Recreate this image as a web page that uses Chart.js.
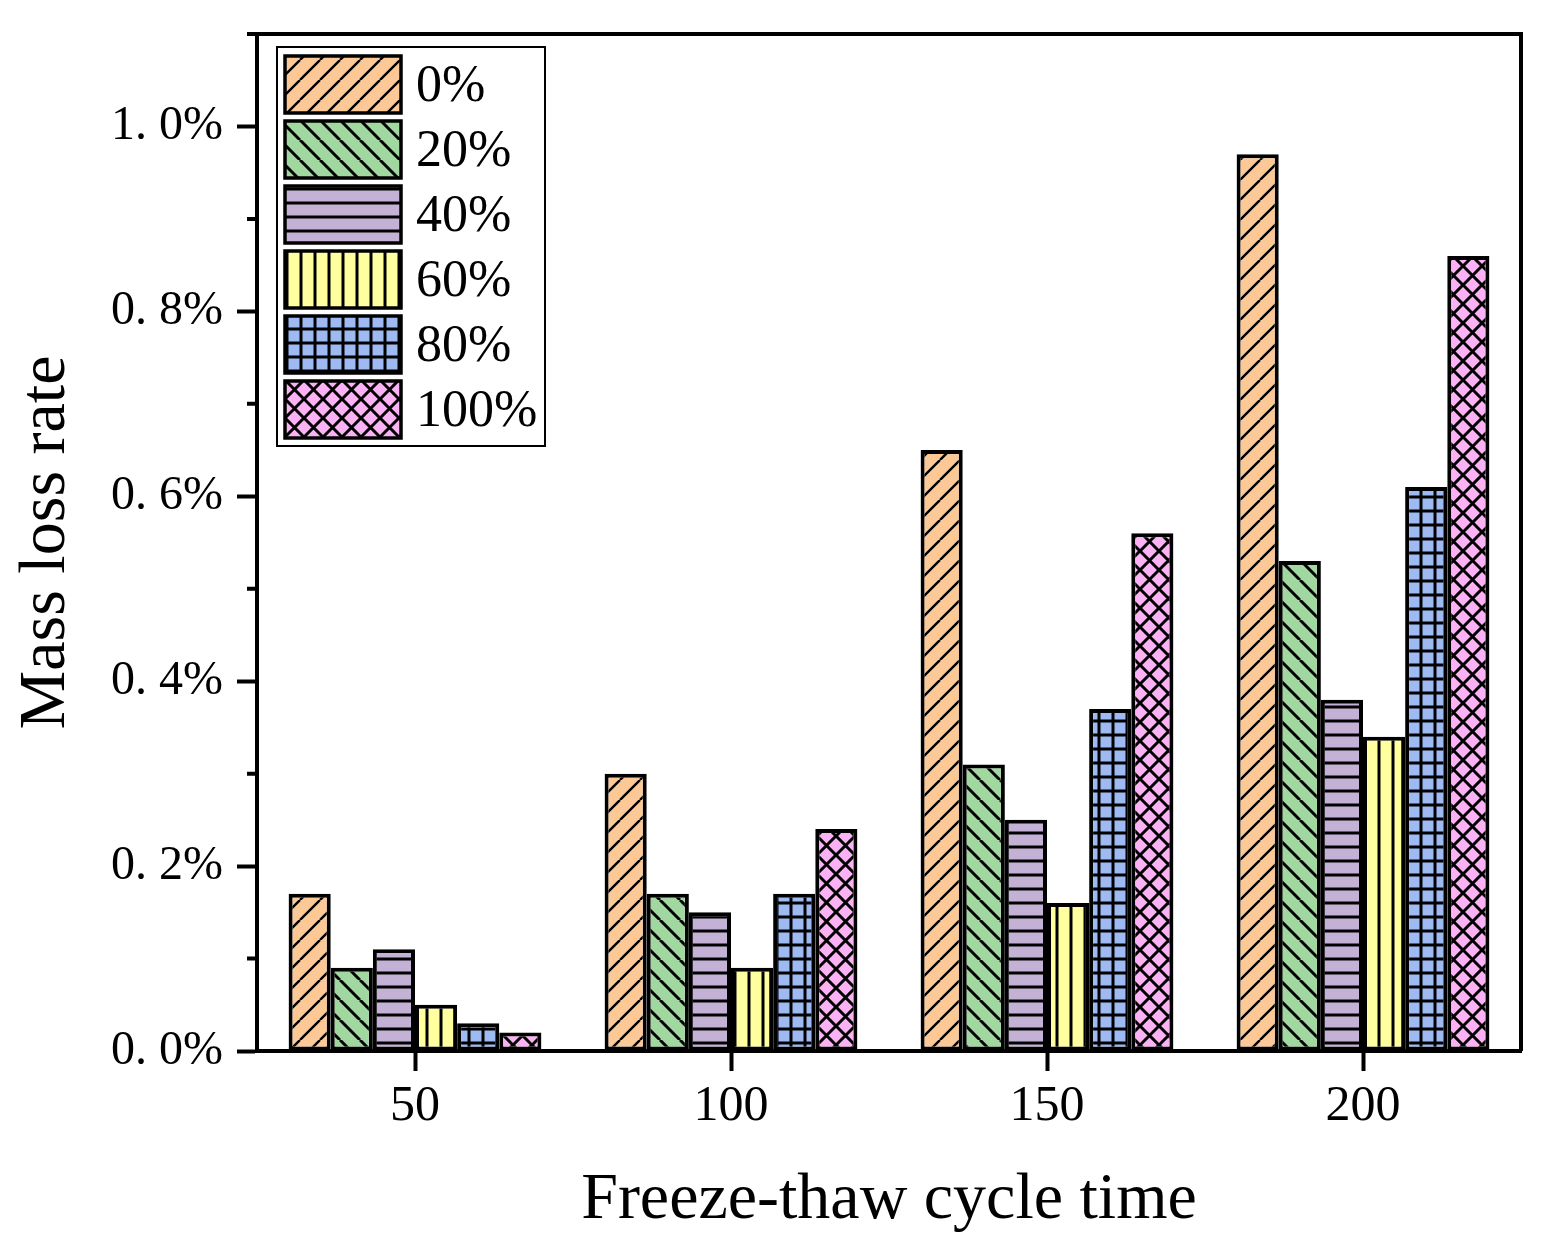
<!DOCTYPE html>
<html>
<head>
<meta charset="utf-8">
<script src="https://cdn.jsdelivr.net/npm/chart.js@4.4.1/dist/chart.umd.min.js"></script>
<style>
  html, body { margin: 0; padding: 0; background: #fff; }
  #wrap { width: 1546px; height: 1255px; }
</style>
</head>
<body>
<div id="wrap"><canvas id="chart" width="1546" height="1255"></canvas></div>
<script>
// Mass loss rate vs freeze-thaw cycles, grouped hatched bars.
const cycles = ['50', '100', '150', '200'];
const seriesNames = ['0%', '20%', '40%', '60%', '80%', '100%'];
const loss0 = [0.17, 0.30, 0.65, 0.97];
const loss20 = [0.09, 0.17, 0.31, 0.53];
const loss40 = [0.11, 0.15, 0.25, 0.38];
const loss60 = [0.05, 0.09, 0.16, 0.34];
const loss80 = [0.03, 0.17, 0.37, 0.61];
const loss100 = [0.02, 0.24, 0.56, 0.86];
const yMajorTicks = [0, 0.2, 0.4, 0.6, 0.8, 1.0];
const yMinorTicks = [0.1, 0.3, 0.5, 0.7, 0.9];

const FONT = "'Liberation Serif', 'Times New Roman', serif";
const canvas = document.getElementById('chart');
const ctx = canvas.getContext('2d');

// hatch fills
function pattern(bg, size, lw, draw) {
  const c = document.createElement('canvas');
  c.width = c.height = size;
  const x = c.getContext('2d');
  x.fillStyle = bg; x.fillRect(0, 0, size, size);
  x.strokeStyle = '#000'; x.lineWidth = lw;
  x.beginPath(); draw(x, size); x.stroke();
  return ctx.createPattern(c, 'repeat');
}
const fwd = (x, s) => { for (const k of [-1, 0, 1]) { x.moveTo(k * s, s); x.lineTo(k * s + s, 0); } };
const back = (x, s) => { for (const k of [-1, 0, 1]) { x.moveTo(k * s, 0); x.lineTo(k * s + s, s); } };
const horiz = (x, s) => { x.moveTo(0, s / 2); x.lineTo(s, s / 2); };
const vert = (x, s) => { x.moveTo(s / 2, 0); x.lineTo(s / 2, s); };

const fills = [
  pattern('#FCC896', 20, 2.4, fwd),
  pattern('#A0D8A0', 20, 3, back),
  pattern('#C3B2D6', 14, 3, horiz),
  pattern('#FFFFA0', 14, 3, vert),
  pattern('#9DBBF2', 14, 3, (x, s) => { horiz(x, s); vert(x, s); }),
  pattern('#FAB2F5', 19, 3, (x, s) => { fwd(x, s); back(x, s); }),
];
const values = [loss0, loss20, loss40, loss60, loss80, loss100];

const frame = {
  id: 'frame',
  afterDraw(chart) {
    const { ctx, chartArea: a, scales } = chart;
    ctx.save();
    ctx.strokeStyle = '#000';
    ctx.lineWidth = 4;
    ctx.beginPath();
    ctx.moveTo(a.left - 10, a.top); ctx.lineTo(a.right, a.top); ctx.lineTo(a.right, a.bottom);
    // minor y ticks
    yMinorTicks.forEach((v) => {
      const y = scales.y.getPixelForValue(v);
      ctx.moveTo(a.left - 10, y); ctx.lineTo(a.left, y);
    });
    ctx.stroke();

    // legend box
    const bx = 277, by = 47, bw = 268, bh = 399;
    ctx.fillStyle = '#fff';
    ctx.lineWidth = 2;
    ctx.fillRect(bx, by, bw, bh);
    ctx.strokeRect(bx, by, bw, bh);
    ctx.font = '52px ' + FONT;
    ctx.textBaseline = 'middle';
    chart.data.datasets.forEach((ds, i) => {
      const y = 56 + i * 65;
      ctx.fillStyle = ds.backgroundColor;
      ctx.fillRect(285, y, 116, 57);
      ctx.lineWidth = 3.5;
      ctx.strokeRect(285, y, 116, 57);
      ctx.fillStyle = '#000';
      ctx.fillText(ds.label, 416, y + 31);
    });
    ctx.restore();
  },
};

new Chart(canvas, {
  type: 'bar',
  data: {
    labels: cycles,
    datasets: seriesNames.map((name, i) => ({
      label: name,
      data: values[i],
      backgroundColor: fills[i],
      borderColor: '#000',
      borderWidth: 4,
      borderSkipped: false,
      categoryPercentage: 0.8,
      barPercentage: 1.0,
    })),
  },
  options: {
    responsive: false,
    devicePixelRatio: 1,
    animation: false,
    layout: { padding: { top: 34, right: 25, left: 0, bottom: 0 } },
    plugins: { legend: { display: false }, tooltip: { enabled: false } },
    scales: {
      x: {
        grid: { offset: false, drawOnChartArea: false, tickLength: 20, tickWidth: 4, tickColor: '#000' },
        border: { display: true, color: '#000', width: 4 },
        ticks: { color: '#000', font: { family: FONT, size: 50 }, padding: 6, maxRotation: 0 },
        title: { display: true, text: 'Freeze-thaw cycle time', color: '#000', font: { family: FONT, size: 66 }, padding: { top: 0, bottom: 15 } },
        afterFit: (s) => { s.height = 204; s.paddingLeft = 0; s.paddingRight = 0; },
      },
      y: {
        min: 0,
        max: 1.1,
        grid: { drawOnChartArea: false, tickLength: 20, tickWidth: 4, tickColor: '#000' },
        border: { display: true, color: '#000', width: 4 },
        ticks: {
          stepSize: 0.2,
          includeBounds: false,
          color: '#000',
          font: { family: FONT, size: 48 },
          padding: 14,
          callback: (v) => (yMajorTicks.some((t) => Math.abs(t - v) < 1e-6) ? v.toFixed(1).replace('.', '. ') + '%' : ''),
        },
        title: { display: true, text: 'Mass loss rate', color: '#000', font: { family: FONT, size: 66 }, padding: { top: 7, bottom: 0 } },
        afterFit: (s) => { s.width = 257; s.paddingTop = 0; s.paddingBottom = 0; },
      },
    },
  },
  plugins: [frame],
});
</script>
</body>
</html>
